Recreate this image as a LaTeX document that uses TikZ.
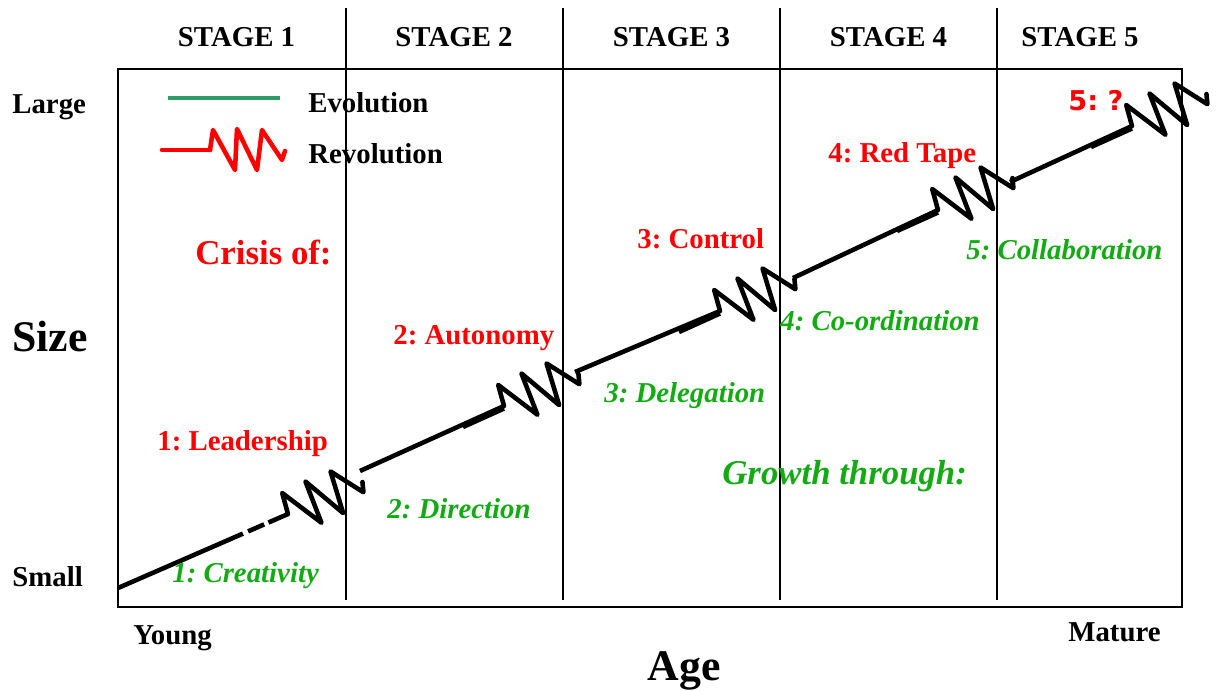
\documentclass[tikz,border=0pt]{standalone}
\usepackage{fontspec}
\setmainfont{Liberation Serif}
\newfontfamily\sansbold{DejaVu Sans}
\usetikzlibrary{calc}
\frenchspacing

\definecolor{crisis}{RGB}{255,0,0}
\definecolor{growth}{RGB}{20,170,20}
\definecolor{evo}{RGB}{46,155,100}

\tikzset{
  frame/.style={line width=1.6pt},
  divider/.style={line width=1.1pt},
  path line/.style={line width=2.6pt, line cap=butt, line join=round},
  zig line/.style={line width=2.6pt, line cap=round, line join=round},
  lbl/.style={inner sep=0pt, anchor=base west, font=\fontsize{16.4}{18}\selectfont\bfseries},
  stagelbl/.style={inner sep=0pt, anchor=base, font=\fontsize{16.4}{18}\selectfont\bfseries},
  crisislbl/.style={lbl, text=crisis},
  growthlbl/.style={lbl, text=growth, font=\fontsize{16.4}{18}\selectfont\bfseries\itshape},
  bigcrisis/.style={lbl, text=crisis, font=\fontsize{19.8}{22}\selectfont\bfseries},
  biggrowth/.style={lbl, text=growth, font=\fontsize{19.8}{22}\selectfont\bfseries\itshape},
  axislbl/.style={inner sep=0pt, font=\fontsize{24.9}{28}\selectfont\bfseries},
  % sawtooth symbol of a revolution, drawn from its base point along +x
  zig/.pic={\draw[zig line] (0,0) -- (3,-20) -- (25,20) -- (27,-21) -- (47,20)
            -- (52,-20) -- (72,10) -- (75,1);},
  revolution/.style={rotate=24, scale=1.08}
}

\begin{document}
\begin{tikzpicture}[x=0.02cm,y=-0.02cm]
\useasboundingbox (0,0) rectangle (1216,690);

% frame and stage dividers
\draw[frame] (118,69) rectangle (1182,607);
\foreach \xx/\nm in {346/d1,563/d2,780/d3,997/d4}{
  \coordinate (\nm t) at (\xx,8);
  \coordinate (\nm b) at (\xx,600);
  \draw[divider] (\nm t) -- (\nm b);
}

% stage headings
\node[stagelbl] (st1) at (236.5,46.5) {STAGE 1};
\node[stagelbl] (st2) at (454,46.5) {STAGE 2};
\node[stagelbl] (st3) at (671.5,46.5) {STAGE 3};
\node[stagelbl] (st4) at (888.5,46.5) {STAGE 4};
\node[stagelbl] (st5) at (1080,46.5) {STAGE 5};

% axis texts
\node[lbl] (large) at (12,113) {Large};
\node[lbl] (small) at (12,586) {Small};
\node[axislbl, anchor=base west] (size) at (12,351) {Size};
\node[lbl] (young) at (133,644) {Young};
\node[lbl] (mature) at (1068,641) {Mature};
\node[axislbl, anchor=base] (age) at (684,680) {Age};

% legend
\coordinate (ev1) at (168,98);
\coordinate (ev2) at (280,98);
\draw[evo, line width=2.8pt] (ev1) -- (ev2);
\node[lbl] (evtxt) at (308,112) {Evolution};
\coordinate (rv1) at (162,150);
\coordinate (rv2) at (210,150);
\draw[zig line, red] (rv1) -- (rv2);
\pic[color=red] at (rv2) {zig};
\node[lbl] (rvtxt) at (308,163) {Revolution};

% growth line: evolution segments and revolutions
\coordinate (s1a) at (118,588);  \coordinate (z1) at (288,514);
\coordinate (s2a) at (360,471);  \coordinate (z2) at (504,406);
\coordinate (s3a) at (575,372);  \coordinate (z3) at (720,311);
\coordinate (s4a) at (793,278);  \coordinate (z4) at (938,210);
\coordinate (s5a) at (1010,182); \coordinate (z5) at (1132,126);

\draw[path line] (s1a) -- ($(s1a)!0.735!(z1)$);
\draw[path line] ($(s1a)!0.765!(z1)$) -- ($(s1a)!0.86!(z1)$);
\draw[path line] ($(s1a)!0.885!(z1)$) -- (z1);

\draw[path line] (s2a) -- (z2);
\draw[path line] ($(z2)+(-41,21)$) -- ($(z2)+(0,2.5)$);
\draw[path line] (s3a) -- (z3);
\draw[path line] ($(z3)+(-41,21)$) -- ($(z3)+(0,2.5)$);
\draw[path line] (s4a) -- (z4);
\draw[path line] ($(z4)+(-41,21)$) -- ($(z4)+(0,2.5)$);
\draw[path line] (s5a) -- (z5);
\draw[path line] ($(z5)+(-41,21)$) -- ($(z5)+(0,2.5)$);

\pic[revolution] at (z1) {zig};
\pic[revolution] at (z2) {zig};
\pic[revolution] at (z3) {zig};
\pic[revolution] at (z4) {zig};
\pic[revolution] at (z5) {zig};

% crises
\node[bigcrisis] (crisisof) at (195,264) {Crisis of:};
\node[crisislbl] (c1) at (157,450) {1: Leadership};
\node[crisislbl] (c2) at (393,344) {2: Autonomy};
\node[crisislbl] (c3) at (637,248) {3: Control};
\node[crisislbl] (c4) at (828,162) {4: Red Tape};
\node[inner sep=0pt, anchor=base west, text=crisis,
      font=\sansbold\fontsize{15.5}{17}\selectfont\bfseries] (c5) at (1068,110) {5: ?};

% growth phases
\node[biggrowth] (growth) at (722,484) {Growth through:};
\node[growthlbl] (g1) at (172,582) {1: Creativity};
\node[growthlbl] (g2) at (387,518) {2: Direction};
\node[growthlbl] (g3) at (604,402) {3: Delegation};
\node[growthlbl] (g4) at (780,330) {4: Co-ordination};
\node[growthlbl] (g5) at (966,259) {5: Collaboration};
\end{tikzpicture}
\end{document}
